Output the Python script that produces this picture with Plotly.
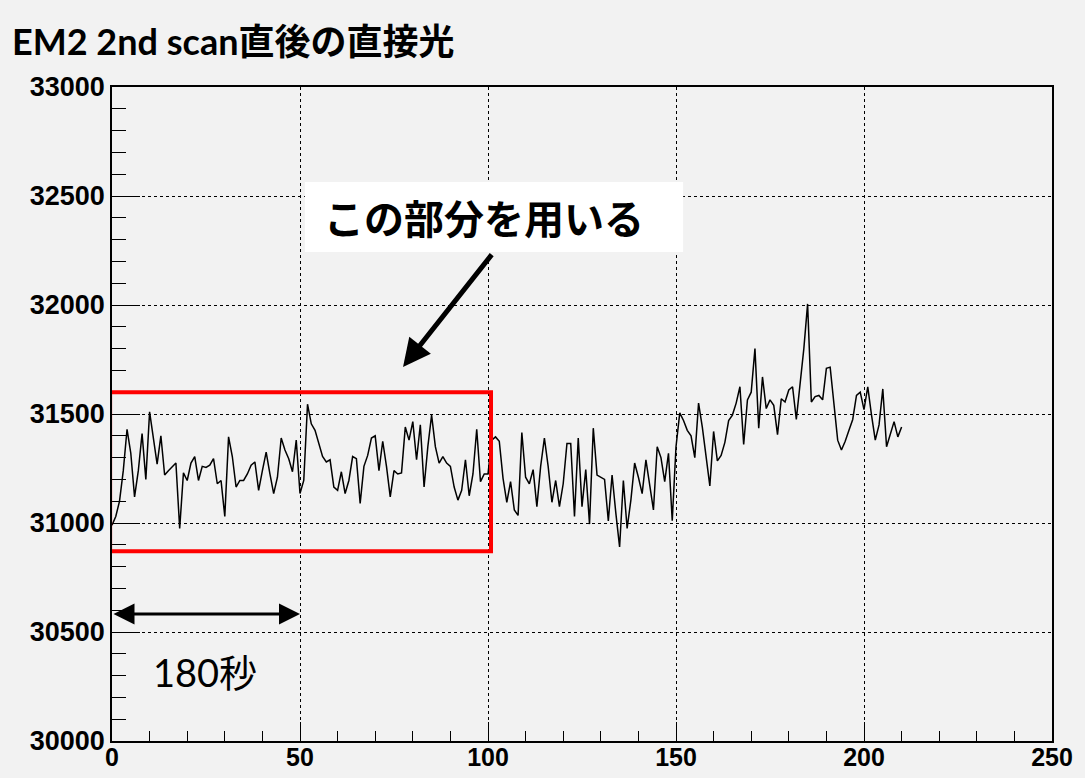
import plotly.graph_objects as go

# Direct-light readout after the EM2 2nd scan, one sample per time step
time_steps = list(range(0, 211))
counts = [
    30990, 31030, 31100, 31240, 31430, 31320, 31120, 31240, 31410, 31200,
    31510, 31390, 31270, 31400, 31220, 31240, 31260, 31275, 30975, 31230,
    31195, 31275, 31305, 31195, 31260, 31255, 31265, 31295, 31180, 31195,
    31030, 31395, 31305, 31165, 31195, 31195, 31225, 31265, 31280, 31150,
    31240, 31325, 31225, 31135, 31210, 31390, 31335, 31295, 31235, 31380,
    31135, 31195, 31545, 31455, 31425, 31365, 31305, 31280, 31290, 31165,
    31150, 31235, 31135, 31195, 31305, 31295, 31090, 31260, 31310, 31390,
    31400, 31240, 31375, 31260, 31120, 31240, 31225, 31230, 31440, 31380,
    31465, 31290, 31450, 31165, 31350, 31495, 31350, 31275, 31305, 31275,
    31260, 31165, 31105, 31150, 31290, 31125, 31225, 31430, 31190, 31225,
    31225, 31380, 31395, 31375, 31205, 31095, 31190, 31060, 31035, 31415,
    31210, 31180, 31245, 31075, 31260, 31390, 31260, 31095, 31195, 31075,
    31180, 31365, 31365, 31030, 31390, 31075, 31245, 30995, 31435, 31220,
    31210, 31200, 31010, 31220, 31045, 30890, 31195, 30975, 31105, 31275,
    31210, 31135, 31290, 31180, 31060, 31350, 31300, 31190, 31320, 31010,
    31350, 31505, 31470, 31425, 31400, 31300, 31550, 31440, 31300, 31170,
    31420, 31285, 31310, 31370, 31470, 31495, 31550, 31625, 31360, 31565,
    31600, 31800, 31435, 31670, 31525, 31565, 31540, 31405, 31570, 31555,
    31610, 31625, 31475, 31645, 31800, 32005, 31555, 31580, 31585, 31565,
    31710, 31715, 31540, 31380, 31335, 31375, 31425, 31475, 31585, 31600,
    31520, 31625, 31495, 31380, 31450, 31615, 31350, 31405, 31465, 31395,
    31440,
]

x_ticks = [0, 50, 100, 150, 200, 250]
y_ticks = [30000, 30500, 31000, 31500, 32000, 32500, 33000]

title_text = "EM2 2nd scan直後の直接光"
callout_text = "この部分を用いる"
span_text = "180秒"

# Region used for the analysis and the 180 s span marker
used_x = (-0.5, 100.8)
used_y = (30870, 31600)
span_x = (0, 50)
span_y = 30583

BG = "#f2f2f2"
LATIN_CJK = "Lato, Noto Sans CJK JP, sans-serif"
Y_TICK_FONT = dict(family="Liberation Sans, Arial, sans-serif", size=27, color="black", weight="bold")
X_TICK_FONT = dict(family="Liberation Sans, Arial, sans-serif", size=25, color="black", weight="bold")

fig = go.Figure()
fig.add_trace(go.Scatter(
    x=time_steps, y=counts, mode="lines",
    line=dict(color="black", width=1.5),
    hoverinfo="skip", showlegend=False,
))

axis_common = dict(
    showline=True, linecolor="black", linewidth=1.5, mirror=True,
    showgrid=True, gridcolor="black", griddash="dot", gridwidth=1,
    zeroline=False, ticks="inside", tickcolor="black", tickwidth=1.2,
    automargin=False,
)

fig.update_xaxes(
    range=[0, 250], tickvals=x_ticks, ticktext=[str(v) for v in x_ticks], ticklen=19,
    tickfont=X_TICK_FONT, ticklabelstandoff=-7,
    minor=dict(dtick=10, ticks="inside", ticklen=10, tickcolor="black", showgrid=False),
    **axis_common,
)
fig.update_yaxes(
    range=[30000, 33000], tickvals=y_ticks, ticktext=[str(v) for v in y_ticks], ticklen=28,
    tickfont=Y_TICK_FONT,
    minor=dict(dtick=100, ticks="inside", ticklen=14, tickcolor="black", showgrid=False),
    **axis_common,
)

shapes = [
    # red frame around the part of the series that is used
    dict(type="rect", xref="x", yref="y", x0=used_x[0], x1=used_x[1],
         y0=used_y[0], y1=used_y[1], line=dict(color="#ff0000", width=4),
         fillcolor="rgba(0,0,0,0)", layer="above"),
    # white label box for the callout
    dict(type="rect", xref="x", yref="y", x0=51.3, x1=151.9, y0=32243, y1=32564,
         line=dict(width=0), fillcolor="white", layer="above"),
]

annotations = [
    dict(text=callout_text, xref="x", yref="y", x=98.9, y=32404,
         showarrow=False, font=dict(family="Noto Sans CJK JP, sans-serif", size=40,
                                    color="black", weight="bold")),
    dict(text="", xref="x", yref="y", x=77.4, y=31716, axref="x", ayref="y",
         ax=101.3, ay=32238, showarrow=True, arrowhead=2, arrowsize=1.1,
         arrowwidth=5, arrowcolor="black"),
    dict(text="", xref="x", yref="y", x=span_x[1], y=span_y, axref="x", ayref="y",
         ax=span_x[0], ay=span_y, showarrow=True, arrowhead=2, arrowside="end+start",
         arrowsize=1.4, arrowwidth=3, arrowcolor="black"),
    dict(text=span_text, xref="x", yref="y", x=24.7, y=30316, showarrow=False,
         font=dict(family=LATIN_CJK, size=38, color="black")),
]

fig.update_layout(
    width=1085, height=778,
    margin=dict(l=112, r=33, t=87, b=37),
    paper_bgcolor=BG, plot_bgcolor=BG,
    title=dict(text=title_text, xref="container", yref="container",
               x=12 / 1085, xanchor="left", y=1 - 42 / 778, yanchor="middle",
               font=dict(family=LATIN_CJK, size=36, color="black", weight="bold")),
    shapes=shapes, annotations=annotations,
    showlegend=False,
)

fig.write_html("out.html")
